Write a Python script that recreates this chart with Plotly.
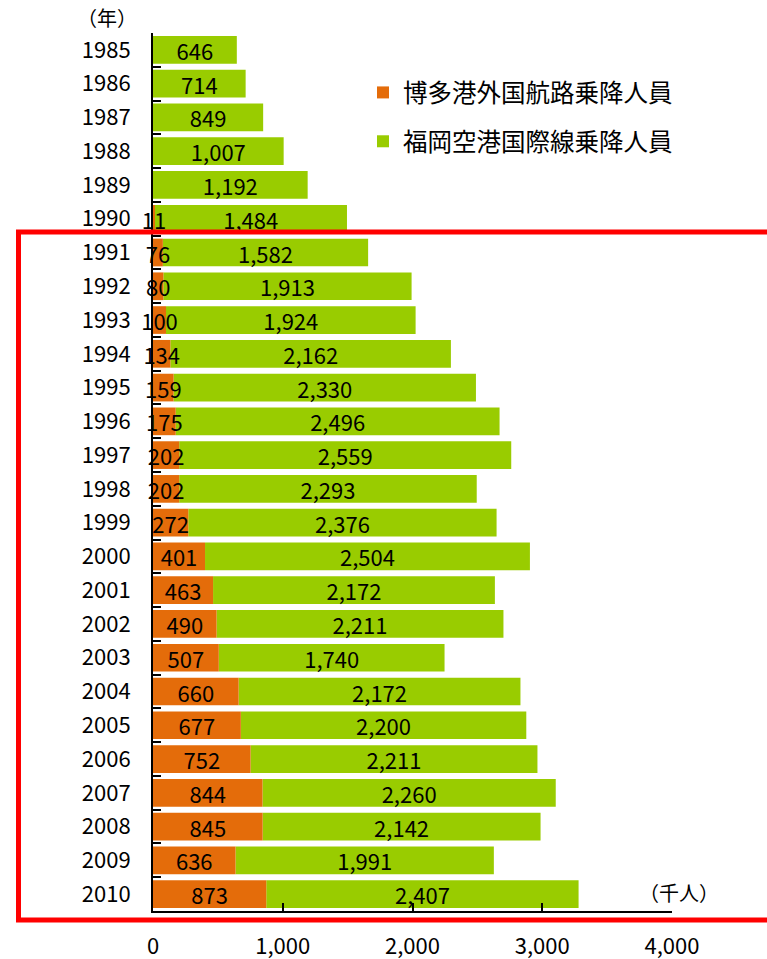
import plotly.graph_objects as go

years = [str(y) for y in range(1985, 2011)]
hakata = [None, None, None, None, None, 11, 76, 80, 100, 134, 159, 175, 202, 202, 272,
          401, 463, 490, 507, 660, 677, 752, 844, 845, 636, 873]
fukuoka = [646, 714, 849, 1007, 1192, 1484, 1582, 1913, 1924, 2162, 2330, 2496, 2559,
           2293, 2376, 2504, 2172, 2211, 1740, 2172, 2200, 2211, 2260, 2142, 1991, 2407]
x_ticks = [0, 1000, 2000, 3000, 4000]
x_tick_text = ["0", "1,000", "2,000", "3,000", "4,000"]
name_hakata = "博多港外国航路乗降人員"
name_fukuoka = "福岡空港国際線乗降人員"

W, H = 767, 959
ML, MR, MT, MB = 153, 95, 33, 48
PW = W - ML - MR
PH = H - MT - MB


def px(x):
    return (x - ML) / PW


def py(y):
    return 1 - (y - MT) / PH


FONT = "Noto Sans CJK JP"
ORANGE = "#E46C0A"
GREEN = "#99CC00"
FS = 22

# green segment stacked after the orange one (base = orange value)
green_base = [h if h is not None else 0 for h in hakata]

fig = go.Figure()
# green drawn first so that orange labels overflowing small bars stay on top
fig.add_trace(go.Bar(
    y=years, x=fukuoka, base=green_base, orientation="h", name=name_fukuoka,
    legendgroup="b", legendrank=2,
    marker=dict(color=GREEN, line=dict(width=0)),
    texttemplate="%{x:,}", textposition="inside", insidetextanchor="middle",
    textangle=0, constraintext="none",
    insidetextfont=dict(color="black", size=FS, family=FONT),
    cliponaxis=False,
))
fig.add_trace(go.Bar(
    y=years, x=hakata, orientation="h", name=name_hakata,
    legendgroup="a", legendrank=1,
    marker=dict(color=ORANGE, line=dict(width=0)),
    texttemplate="%{x:,}", textposition="inside", insidetextanchor="middle",
    textangle=0, constraintext="none",
    insidetextfont=dict(color="black", size=FS, family=FONT),
    cliponaxis=False,
))

fig.update_layout(
    width=W, height=H,
    margin=dict(l=ML, r=MR, t=MT, b=MB, autoexpand=False),
    barmode="overlay", bargap=0.18,
    paper_bgcolor="white", plot_bgcolor="white",
    font=dict(family=FONT, size=FS, color="black"),
    showlegend=True,
    legend=dict(
        x=px(363), y=py(70), xanchor="left", yanchor="top",
        font=dict(size=24.5, family=FONT, color="black"),
        traceorder="grouped", tracegroupgap=14, itemwidth=30,
        bgcolor="rgba(0,0,0,0)",
    ),
    xaxis=dict(
        range=[0, 4000], tickvals=x_ticks, ticktext=x_tick_text,
        ticks="inside", ticklen=8, tickwidth=2, tickcolor="black",
        showline=True, linecolor="black", linewidth=2,
        showgrid=False, zeroline=False, automargin=False,
        ticklabelstandoff=15,
        tickfont=dict(size=FS, family=FONT),
    ),
    yaxis=dict(
        categoryorder="array", categoryarray=years, autorange="reversed",
        ticks="inside", tickson="boundaries", ticklen=8, tickwidth=2, tickcolor="black",
        showline=True, linecolor="black", linewidth=2,
        showgrid=False, zeroline=False, automargin=False,
        ticklabelstandoff=16,
        tickfont=dict(size=FS, family=FONT),
    ),
)

fig.add_annotation(text="（年）", xref="paper", yref="paper", x=px(107), y=py(18),
                   xanchor="center", yanchor="middle",
                   showarrow=False, font=dict(size=20, family=FONT))
fig.add_annotation(text="（千人）", xref="paper", yref="paper", x=px(679), y=py(892),
                   xanchor="center", yanchor="middle",
                   showarrow=False, font=dict(size=20, family=FONT))

fig.add_shape(type="rect", xref="paper", yref="paper",
              x0=px(18.5), x1=px(775), y0=py(232), y1=py(920),
              line=dict(color="#FF0000", width=5), fillcolor="rgba(0,0,0,0)", layer="above")

fig.write_html("out.html", config={"displayModeBar": False},
               post_script="document.body.style.margin='0';document.body.style.overflow='hidden';")
